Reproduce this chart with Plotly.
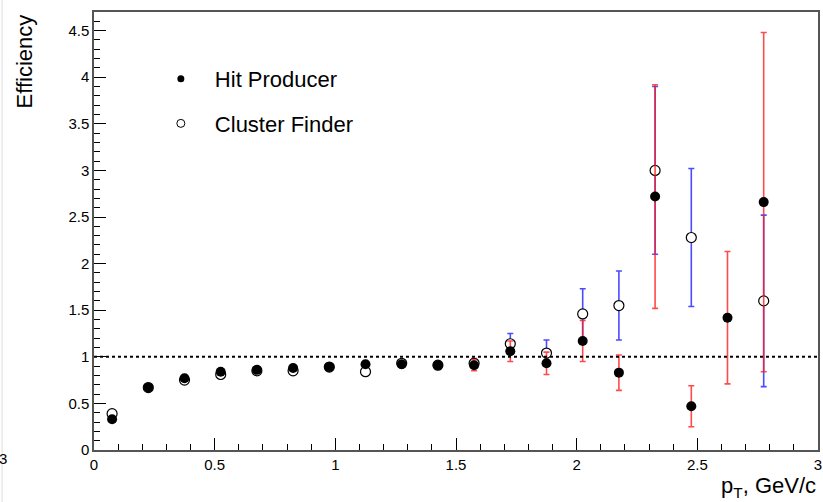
import plotly.graph_objects as go

pt_centres = [0.075, 0.225, 0.375, 0.525, 0.675, 0.825, 0.975, 1.125, 1.275, 1.425,
              1.575, 1.725, 1.875, 2.025, 2.175, 2.325, 2.475, 2.625, 2.775]

hit_eff = [0.33, 0.67, 0.77, 0.84, 0.86, 0.88, 0.89, 0.92, 0.92, 0.91,
           0.91, 1.06, 0.93, 1.17, 0.83, 2.72, 0.47, 1.42, 2.66]
hit_err = [0.01, 0.01, 0.01, 0.01, 0.01, 0.01, 0.02, 0.02, 0.02, 0.03,
           0.06, 0.11, 0.12, 0.22, 0.19, 1.20, 0.22, 0.71, 1.82]

clu_eff = [0.39, 0.67, 0.75, 0.81, 0.85, 0.85, 0.89, 0.84, 0.93, 0.91,
           0.93, 1.14, 1.04, 1.46, 1.55, 3.00, 2.28, None, 1.60]
clu_err = [0.02, 0.01, 0.01, 0.01, 0.01, 0.01, 0.02, 0.02, 0.03, 0.04,
           0.05, 0.11, 0.14, 0.27, 0.37, 0.90, 0.74, None, 0.92]

FONT = "Liberation Sans, Arial, Helvetica, sans-serif"

fig = go.Figure()

fig.add_trace(go.Scatter(
    x=pt_centres, y=clu_eff, mode="markers", name="Cluster Finder",
    showlegend=False,
    marker=dict(symbol="circle", size=10, color="white",
                line=dict(color="black", width=1.2)),
    error_y=dict(type="data", array=clu_err, visible=True,
                 color="rgba(30,30,255,0.8)", thickness=1.6, width=3),
))

fig.add_trace(go.Scatter(
    x=pt_centres, y=hit_eff, mode="markers", name="Hit Producer",
    showlegend=False,
    marker=dict(symbol="circle", size=10, color="black",
                line=dict(color="black", width=0)),
    error_y=dict(type="data", array=hit_err, visible=True,
                 color="rgba(255,30,30,0.8)", thickness=1.6, width=3),
))

# legend entries (smaller symbols, as in the reference legend)
fig.add_trace(go.Scatter(
    x=[None], y=[None], mode="markers", name="Hit Producer",
    legendgroup="h", legendrank=1,
    marker=dict(symbol="circle", size=7, color="black"),
))
fig.add_trace(go.Scatter(
    x=[None], y=[None], mode="markers", name="Cluster Finder",
    legendgroup="c", legendrank=2,
    marker=dict(symbol="circle", size=8, color="white",
                line=dict(color="black", width=1)),
))

# reference line at efficiency = 1
fig.add_shape(type="line", xref="paper", x0=0, x1=1, yref="y", y0=1, y1=1,
              line=dict(color="black", width=2, dash="dot"))

# faint page edge line at far left
fig.add_shape(type="line", xref="paper", x0=-0.127, x1=-0.127, yref="paper",
              y0=-0.2, y1=1.05, line=dict(color="#dddddd", width=1))

fig.add_annotation(text="Efficiency", xref="paper", yref="paper",
                   x=-0.096, y=1.0, xanchor="center", yanchor="top",
                   textangle=-90, showarrow=False,
                   font=dict(family=FONT, size=22, color="black"))
fig.add_annotation(text="p<sub>T</sub>, GeV/c", xref="paper", yref="paper",
                   x=1.0, y=-0.084, xanchor="right", yanchor="middle",
                   showarrow=False,
                   font=dict(family=FONT, size=22, color="black"))
fig.add_annotation(text="3", xref="paper", yref="paper",
                   x=-0.118, y=-0.02, xanchor="right", yanchor="middle",
                   showarrow=False,
                   font=dict(family=FONT, size=15, color="black"))

fig.update_layout(
    width=823, height=502,
    margin=dict(l=94, r=5, t=12, b=52),
    paper_bgcolor="white", plot_bgcolor="white",
    font=dict(family=FONT, size=15, color="black"),
    showlegend=True,
    legend=dict(x=0.073, y=0.895, xanchor="left", yanchor="top",
                bgcolor="rgba(0,0,0,0)", font=dict(family=FONT, size=22),
                tracegroupgap=13, traceorder="grouped", itemwidth=58),
    xaxis=dict(range=[0, 3], showgrid=False, zeroline=False, automargin=False,
               showline=True, mirror=True, linecolor="#555", linewidth=1.5,
               ticks="inside", ticklen=12, tickcolor="black",
               tick0=0, dtick=0.5, tickfont=dict(family=FONT, size=15),
               minor=dict(ticks="inside", ticklen=6, dtick=0.1, tickcolor="black")),
    yaxis=dict(range=[0, 4.7], showgrid=False, zeroline=False, automargin=False,
               showline=True, mirror=True, linecolor="#555", linewidth=1.5,
               ticks="inside", ticklen=12, tickcolor="black",
               tick0=0, dtick=0.5, tickfont=dict(family=FONT, size=15),
               minor=dict(ticks="inside", ticklen=6, dtick=0.1, tickcolor="black")),
)

fig.write_html("out.html")
